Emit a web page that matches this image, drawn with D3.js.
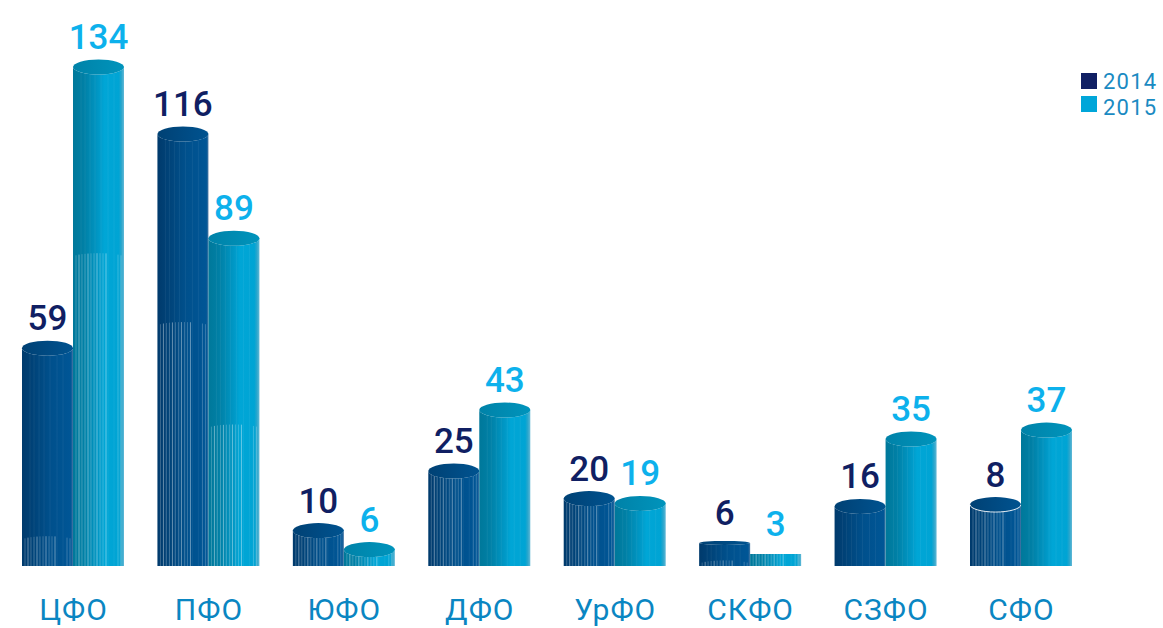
<!DOCTYPE html>
<html>
<head>
<meta charset="utf-8">
<script src="https://cdn.jsdelivr.net/npm/d3@7"></script>
<style>
  html, body { margin: 0; background: #fff; }
  svg { display: block; font-family: Roboto, sans-serif; }
</style>
</head>
<body>
<svg id="chart" width="1163" height="628"></svg>
<script>
const regions = ['ЦФО', 'ПФО', 'ЮФО', 'ДФО', 'УрФО', 'СКФО', 'СЗФО', 'СФО'];
const years = ['2014', '2015'];

// the numbers printed above the cylinders
const labels2014 = [59, 116, 10, 25, 20, 6, 16, 8];
const labels2015 = [134, 89, 6, 43, 19, 3, 35, 37];

// cylinder heights as drawn in the picture, in the same units. They do not
// always follow the printed number (the "8" cylinder is as tall as the "16" one)
const heights2014 = [58.5, 116, 9.5, 25.5, 18.1, 6.2, 16, 16.5];
const heights2015 = [134, 88, 4.4, 41.9, 16.8, 3.2, 34.1, 36.5];

// level up to which the lower part of each cylinder carries the pale stripes
const stripes2014 = [8, 65.5, 9.5, 25.5, 18.1, 1.5, 0, 16.5];
const stripes2015 = [84, 38, 4.4, 0, 0, 3.2, 0, 0];

const W = 1163, H = 628;
const BASE = 566, BAR_W = 51;

const svg = d3.select('#chart');

const x = d3.scalePoint().domain(regions).range([73, 1021]);
const y = d3.scaleLinear().domain([0, 134]).range([BASE, 67]);

const defs = svg.append('defs');

function gradient(id, stops) {
  const g = defs.append('linearGradient').attr('id', id);
  stops.forEach(s => g.append('stop').attr('offset', s[0]).attr('stop-color', s[1]));
}

gradient('body2014', [[0, '#003a6c'], [0.25, '#00447a'], [0.55, '#00508c'], [0.96, '#005696'], [1, '#4a78a4']]);
gradient('top2014', [[0, '#004174'], [1, '#005390']]);
gradient('body2015', [[0, '#00789a'], [0.22, '#0080a6'], [0.5, '#0098c6'], [0.62, '#00a6d6'], [0.9, '#00a4d4'], [0.95, '#2aa6cc'], [1, '#62b8d6']]);
gradient('top2015', [[0, '#0082a8'], [1, '#0094bc']]);

// thin pale lines, same comb for every cylinder
const stripeOffsets = [3, 6, 9, 12, 15, 18, 21, 24, 27, 30, 33, 45, 48];
const bandOffsets = [8, 12, 17, 22, 28, 35, 41];

function lidRy(region, h) {
  // СКФО cylinders are so short that their lids are nearly flat
  if (region === 'СКФО') return h < 15 ? 0 : 2;
  return 7.5;
}

function drawCylinder(g, region, year, height, stripeLevel) {
  const top = y(height);
  const h = BASE - top;
  const ry = lidRy(region, h);

  g.append('path')
    .attr('d', ry
      ? `M0,${top}A${BAR_W / 2},${ry} 0 0 0 ${BAR_W},${top}V${BASE}H0Z`
      : `M0,${top}H${BAR_W}V${BASE}H0Z`)
    .attr('fill', `url(#body${year})`);

  // faint banding all the way up
  g.selectAll('line.band')
    .data(bandOffsets)
    .enter().append('line')
    .attr('class', 'band')
    .attr('x1', d => d).attr('x2', d => d)
    .attr('y1', top).attr('y2', BASE)
    .attr('stroke', '#fff')
    .attr('opacity', 0.05);

  if (stripeLevel > 0) {
    const full = stripeLevel >= height;
    const sy = y(stripeLevel);
    g.selectAll('line.stripe')
      .data(stripeOffsets)
      .enter().append('line')
      .attr('class', 'stripe')
      .attr('x1', d => d).attr('x2', d => d)
      // the edge of the striped part bows upward like the lid
      .attr('y1', d => full ? top : sy + 4 - 4 * Math.sqrt(1 - Math.pow(d / (BAR_W / 2) - 1, 2)))
      .attr('y2', BASE)
      .attr('stroke', '#fff')
      .attr('stroke-width', 1)
      .attr('opacity', (d, i) => i % 3 === 1 ? 0.4 : 0.22);
  }

  if (ry) {
    g.append('ellipse')
      .attr('cx', BAR_W / 2).attr('cy', top)
      .attr('rx', BAR_W / 2).attr('ry', ry)
      .attr('fill', `url(#top${year})`);
    // СФО 2014 has a bright rim along the front of the lid
    if (region === 'СФО' && year === '2014') {
      g.append('path')
        .attr('d', `M0,${top}A${BAR_W / 2},${ry} 0 0 0 ${BAR_W},${top}`)
        .attr('fill', 'none')
        .attr('stroke', '#fff')
        .attr('stroke-width', 1)
        .attr('opacity', 0.85);
    }
  }
}

const series = [
  { year: '2014', heights: heights2014, stripes: stripes2014, labels: labels2014, dx: -BAR_W, color: '#101f63' },
  { year: '2015', heights: heights2015, stripes: stripes2015, labels: labels2015, dx: 0, color: '#0db1ec' }
];

series.forEach(s => {
  regions.forEach((r, i) => {
    const g = svg.append('g').attr('transform', `translate(${x(r) + s.dx},0)`);
    drawCylinder(g, r, s.year, s.heights[i], s.stripes[i]);
  });
});

// value labels go on top of all the cylinders
series.forEach(s => {
  svg.append('g').selectAll('text')
    .data(regions)
    .enter().append('text')
    .attr('x', r => x(r) + s.dx + BAR_W / 2)
    .attr('y', (r, i) => y(s.heights[i]) - 18)
    .attr('text-anchor', 'middle')
    .attr('font-size', 35)
    .attr('font-weight', 500)
    .attr('fill', s.color)
    .text((r, i) => s.labels[i]);
});

// region names
const axis = d3.axisBottom(x).tickSize(0).tickPadding(0);
const axisG = svg.append('g').attr('transform', `translate(0,599)`).call(axis);
axisG.select('.domain').remove();
axisG.selectAll('text')
  .attr('font-family', 'Roboto, sans-serif')
  .attr('font-size', 30)
  .attr('letter-spacing', 1)
  .attr('fill', '#0a86c2');

// legend
const legendY = d3.scalePoint().domain(years).range([81, 104]);
const legendTextY = d3.scalePoint().domain(years).range([88.5, 114.5]);
const legendColor = d3.scaleOrdinal().domain(years).range(['#101f63', '#00a6d9']);
const legend = svg.append('g').selectAll('g')
  .data(years)
  .enter().append('g');
legend.append('rect')
  .attr('x', 1081).attr('y', d => legendY(d) - 8)
  .attr('width', 16).attr('height', 16)
  .attr('fill', d => legendColor(d));
legend.append('text')
  .attr('x', 1103).attr('y', d => legendTextY(d))
  .attr('font-size', 22)
  .attr('letter-spacing', 1.2)
  .attr('fill', '#1a8ac2')
  .text(d => d);
</script>
</body>
</html>
